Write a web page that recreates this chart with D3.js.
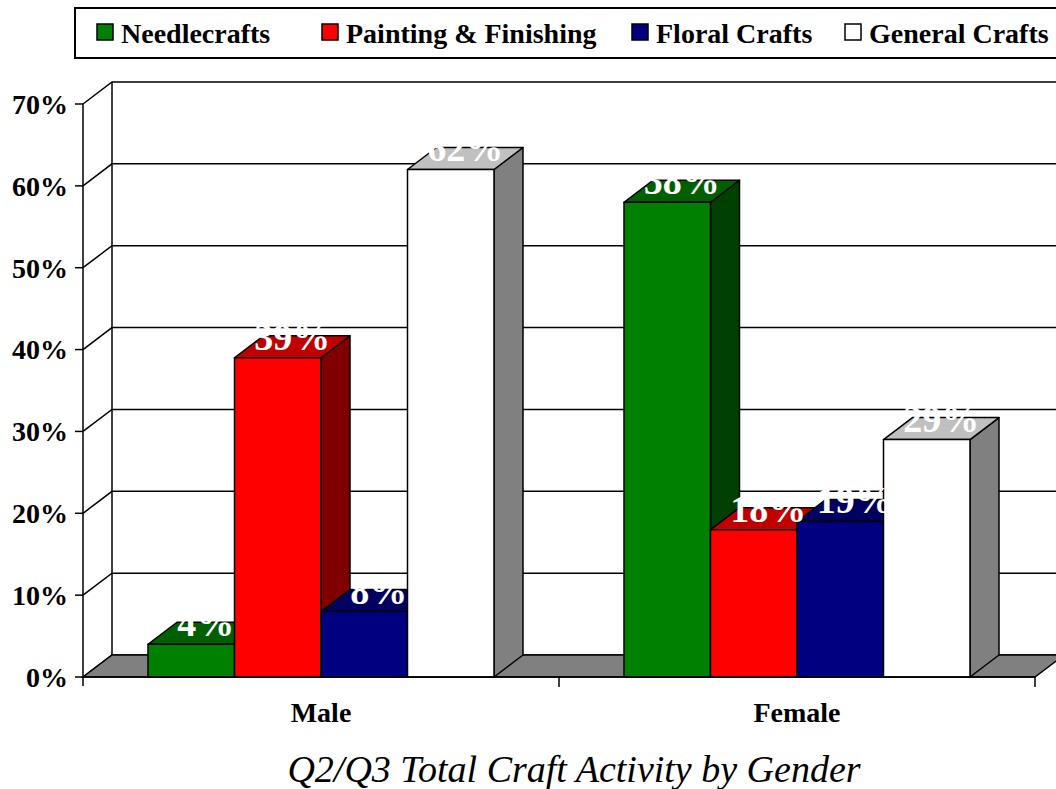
<!DOCTYPE html>
<html>
<head>
<meta charset="utf-8">
<script src="https://cdn.jsdelivr.net/npm/d3@7"></script>
<style>
  body { margin: 0; background: #fff; }
  svg text { font-family: "Liberation Serif", "Times New Roman", serif; }
</style>
</head>
<body>
<div id="chart"></div>
<script>
// Chart data
const categories = ["Male", "Female"];
const series = ["Needlecrafts", "Painting & Finishing", "Floral Crafts", "General Crafts"];
const needlecrafts = [4, 58];
const painting = [39, 18];
const floral = [8, 19];
const general = [62, 29];
const yTicks = [0, 10, 20, 30, 40, 50, 60, 70];

const values = [needlecrafts, painting, floral, general];

// face colours: front, top, side
const colors = [
    {front: "#008000", top: "#006000", side: "#004000"},
    {front: "#ff0000", top: "#c00000", side: "#800000"},
    {front: "#000080", top: "#000060", side: "#000040"},
    {front: "#ffffff", top: "#c0c0c0", side: "#808080"}
];

const serif = "'Liberation Serif', 'Times New Roman', serif";
const width = 1056;
const height = 789;
const left = 83, right = 1035;
const dx = 29, dy = -22; // depth offset of the 3d walls

const svg = d3.select("#chart")
    .append("svg")
        .attr("width", width)
        .attr("height", height);

const y = d3.scaleLinear()
    .domain([0, 70])
    .range([677, 104]);

const x0 = d3.scaleBand()
    .domain(categories)
    .range([left, right]);

const x1 = d3.scaleBand()
    .domain(series)
    .range([65, x0.bandwidth() - 65]);

// Back wall + left wall gridlines
const grid = svg.append("g")
    .attr("stroke", "#000")
    .attr("stroke-width", 1.5)
    .attr("fill", "none");

grid.selectAll("path")
    .data(yTicks)
    .join("path")
        .attr("d", d => `M${left},${y(d)}L${left + dx},${y(d) + dy}L${width + 10},${y(d) + dy}`);

grid.append("line")
    .attr("x1", left + dx).attr("x2", left + dx)
    .attr("y1", y(70) + dy).attr("y2", y(0) + dy);

// Floor
svg.append("path")
    .attr("d", `M${left},${y(0)}L${right},${y(0)}L${right + dx},${y(0) + dy}L${left + dx},${y(0) + dy}Z`)
    .attr("fill", "#808080")
    .attr("stroke", "#000")
    .attr("stroke-width", 1.5);

// Bars, drawn left to right so later bars hide earlier side faces
const bars = [];
categories.forEach((c, ci) => {
    series.forEach((s, si) => {
        bars.push({cat: c, ser: s, si: si, value: values[si][ci]});
    });
});

const barG = svg.append("g")
    .attr("stroke", "#000")
    .attr("stroke-width", 1.5)
    .attr("stroke-linejoin", "round");

bars.forEach(b => {
    const xa = x0(b.cat) + x1(b.ser);
    const xb = xa + x1.bandwidth();
    const yt = y(b.value);
    const yb = y(0);
    const col = colors[b.si];
    const g = barG.append("g");
    g.append("path")
        .attr("d", `M${xb},${yt}L${xb + dx},${yt + dy}L${xb + dx},${yb + dy}L${xb},${yb}Z`)
        .attr("fill", col.side);
    g.append("path")
        .attr("d", `M${xa},${yt}L${xb},${yt}L${xb + dx},${yt + dy}L${xa + dx},${yt + dy}Z`)
        .attr("fill", col.top);
    g.append("rect")
        .attr("x", xa)
        .attr("y", yt)
        .attr("width", xb - xa)
        .attr("height", yb - yt)
        .attr("fill", col.front);
});

// Axes
const axes = svg.append("g")
    .attr("stroke", "#000")
    .attr("stroke-width", 1.5);

axes.append("line")
    .attr("x1", left).attr("x2", left)
    .attr("y1", y(70)).attr("y2", y(0) + 9);
axes.append("line")
    .attr("x1", left).attr("x2", right)
    .attr("y1", y(0)).attr("y2", y(0));
axes.selectAll(".ytick")
    .data(yTicks)
    .join("line")
        .attr("class", "ytick")
        .attr("x1", left - 8).attr("x2", left)
        .attr("y1", d => y(d)).attr("y2", d => y(d));
axes.selectAll(".xtick")
    .data([right, x0(categories[1])])
    .join("line")
        .attr("class", "xtick")
        .attr("x1", d => d).attr("x2", d => d)
        .attr("y1", y(0)).attr("y2", y(0) + 10);

svg.append("g")
    .selectAll("text")
    .data(yTicks)
    .join("text")
        .attr("x", left - 15)
        .attr("y", d => y(d))
        .attr("dy", "0.35em")
        .attr("text-anchor", "end")
        .attr("font-family", serif)
        .attr("font-size", 28)
        .attr("font-weight", "bold")
        .text(d => d + "%");

svg.append("g")
    .selectAll("text")
    .data(categories)
    .join("text")
        .attr("x", d => x0(d) + x0.bandwidth() / 2)
        .attr("y", 722)
        .attr("text-anchor", "middle")
        .attr("font-family", serif)
        .attr("font-size", 28)
        .attr("font-weight", "bold")
        .text(d => d);

// Value labels (white, on the top faces)
svg.append("g")
    .selectAll("text")
    .data(bars)
    .join("text")
        .attr("x", d => x0(d.cat) + x1(d.ser) + x1.bandwidth() / 2 + dx / 2)
        .attr("y", d => y(d.value) + dy / 2 + 3)
        .attr("text-anchor", "middle")
        .attr("font-family", serif)
        .attr("font-size", 38)
        .attr("font-weight", "bold")
        .attr("fill", "#fff")
        .text(d => d.value + "%");

// Legend
const legend = svg.append("g");
legend.append("rect")
    .attr("x", 75).attr("y", 8)
    .attr("width", 1000).attr("height", 50)
    .attr("fill", "#fff")
    .attr("stroke", "#000")
    .attr("stroke-width", 2);

const legendX = [97, 322, 632, 845];
series.forEach((s, i) => {
    legend.append("rect")
        .attr("x", legendX[i]).attr("y", 24)
        .attr("width", 16).attr("height", 16)
        .attr("fill", colors[i].front)
        .attr("stroke", "#000")
        .attr("stroke-width", 1.5);
    legend.append("text")
        .attr("x", legendX[i] + 24)
        .attr("y", 43)
        .attr("font-family", serif)
        .attr("font-size", 28)
        .attr("font-weight", "bold")
        .text(s);
});

// Title
svg.append("text")
    .attr("x", 574)
    .attr("y", 782)
    .attr("text-anchor", "middle")
    .attr("font-family", serif)
    .attr("font-size", 38)
    .attr("font-style", "italic")
    .text("Q2/Q3 Total Craft Activity by Gender");
</script>
</body>
</html>
